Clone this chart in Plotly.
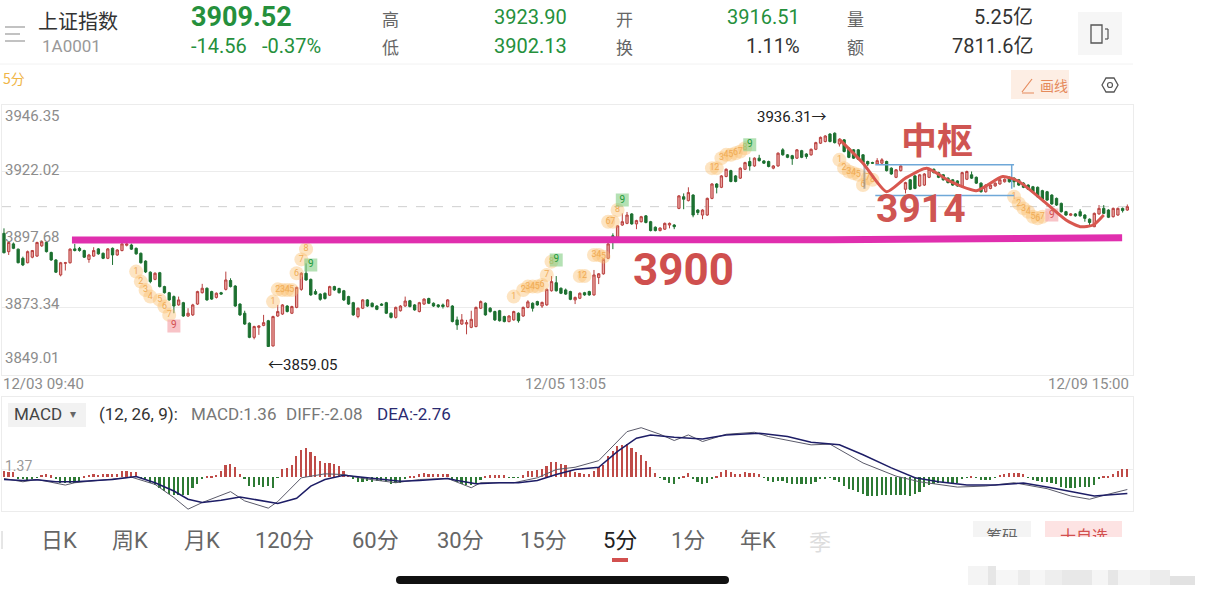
import plotly.graph_objects as go

W = 1208
H = 596

# 5 minute bars, 12/03 09:40 to 12/09 15:00
opens = [
    3899.9, 3893.3, 3896.1, 3894.2, 3890.9, 3889.3, 3891.3, 3891.7, 3895.4, 3896.6,
    3893.0, 3890.3, 3884.9, 3889.1, 3889.3, 3894.3, 3894.5, 3893.7, 3890.5, 3891.7,
    3894.3, 3892.7, 3890.9, 3894.5, 3892.1, 3893.7, 3895.6, 3895.7, 3894.5, 3892.7,
    3889.9, 3885.9, 3883.3, 3885.7, 3880.7, 3878.5, 3877.1, 3874.1, 3874.9, 3870.1,
    3870.5, 3874.4, 3878.5, 3880.1, 3878.9, 3876.8, 3878.5, 3879.7, 3882.9, 3880.9,
    3874.4, 3871.1, 3867.5, 3862.4, 3866.0, 3866.7, 3868.4, 3859.3, 3870.1, 3870.8,
    3873.7, 3871.1, 3873.2, 3879.7, 3885.5, 3883.3, 3878.9, 3878.0, 3878.3, 3877.6,
    3880.7, 3880.0, 3879.2, 3877.1, 3874.9, 3869.9, 3872.9, 3875.9, 3874.7, 3873.7,
    3874.4, 3874.9, 3871.1, 3869.6, 3872.0, 3873.7, 3875.6, 3874.1, 3871.7, 3874.4,
    3876.4, 3874.7, 3874.1, 3874.1, 3873.5, 3873.7, 3868.7, 3867.2, 3867.2, 3866.0,
    3866.3, 3872.9, 3874.7, 3872.9, 3871.7, 3872.0, 3869.9, 3868.1, 3868.7, 3871.1,
    3870.1, 3873.2, 3874.7, 3875.3, 3873.7, 3874.1, 3879.2, 3882.1, 3880.1, 3879.5,
    3878.9, 3875.9, 3876.5, 3878.5, 3878.9, 3877.7, 3884.0, 3885.3, 3890.9, 3899.0,
    3898.5, 3902.9, 3903.5, 3906.9, 3903.3, 3904.1, 3906.2, 3904.1, 3902.1, 3900.9,
    3901.4, 3902.9, 3902.9, 3908.9, 3913.1, 3911.7, 3913.7, 3908.3, 3906.5, 3906.5,
    3912.5, 3917.7, 3916.5, 3920.4, 3922.5, 3920.6, 3919.8, 3923.0, 3925.8, 3924.2,
    3927.0, 3926.0, 3925.8, 3923.4, 3924.2, 3930.0, 3928.2, 3927.9, 3927.0, 3929.7,
    3928.5, 3928.2, 3930.2, 3932.4, 3933.0, 3935.7, 3936.0, 3932.1, 3933.6, 3930.6,
    3930.0, 3930.0, 3928.2, 3925.8, 3925.4, 3924.9, 3925.2, 3925.8, 3923.4, 3920.1,
    3922.5, 3915.8, 3919.2, 3920.6, 3917.0, 3917.3, 3920.1, 3923.0, 3921.8, 3921.0,
    3919.8, 3919.2, 3918.8, 3916.7, 3919.4, 3921.0, 3920.1, 3918.0, 3914.9, 3916.1,
    3917.0, 3917.7, 3918.5, 3920.1, 3919.8, 3919.2, 3918.0, 3917.3, 3916.7, 3916.5,
    3915.3, 3914.9, 3913.7, 3912.5, 3910.7, 3907.7, 3906.4, 3906.9, 3907.7, 3906.5,
    3905.0, 3902.3, 3906.9, 3908.9, 3908.3, 3905.9, 3906.5, 3908.9, 3908.3,
]
closes = [
    3892.9, 3896.6, 3894.5, 3889.3, 3888.5, 3893.3, 3893.7, 3896.6, 3896.9, 3893.3,
    3890.3, 3885.9, 3889.3, 3889.3, 3894.2, 3893.7, 3893.7, 3891.3, 3892.1, 3893.7,
    3892.5, 3890.9, 3894.3, 3892.1, 3893.9, 3896.1, 3896.1, 3894.2, 3892.5, 3889.3,
    3886.0, 3882.5, 3885.5, 3880.7, 3878.5, 3875.9, 3873.7, 3875.9, 3870.1, 3871.1,
    3874.1, 3878.9, 3880.1, 3875.9, 3876.2, 3878.3, 3878.0, 3883.1, 3880.7, 3873.7,
    3870.5, 3867.2, 3862.4, 3866.3, 3866.5, 3867.7, 3859.1, 3869.9, 3871.7, 3874.1,
    3871.7, 3873.5, 3880.4, 3885.5, 3883.1, 3877.7, 3878.0, 3876.1, 3876.4, 3880.7,
    3879.5, 3878.5, 3875.9, 3874.4, 3870.5, 3872.9, 3875.9, 3873.7, 3873.5, 3872.5,
    3874.0, 3871.1, 3869.6, 3873.2, 3873.7, 3875.5, 3873.5, 3872.3, 3874.9, 3876.2,
    3874.7, 3873.7, 3873.5, 3873.5, 3875.9, 3868.1, 3866.9, 3868.7, 3867.7, 3868.9,
    3873.2, 3875.3, 3870.5, 3871.7, 3868.7, 3868.4, 3868.1, 3870.1, 3871.7, 3868.4,
    3873.2, 3875.2, 3872.9, 3874.1, 3875.0, 3879.7, 3882.5, 3879.2, 3878.3, 3878.0,
    3876.1, 3876.8, 3878.3, 3877.7, 3877.7, 3884.9, 3885.3, 3890.5, 3896.1, 3897.5,
    3902.6, 3904.1, 3906.5, 3903.3, 3904.5, 3905.9, 3903.8, 3900.9, 3900.9, 3901.8,
    3903.5, 3903.5, 3902.3, 3913.4, 3912.2, 3914.6, 3906.5, 3907.4, 3908.3, 3912.5,
    3917.7, 3916.5, 3920.6, 3923.0, 3918.6, 3918.6, 3923.4, 3925.4, 3924.2, 3927.0,
    3926.1, 3925.2, 3924.0, 3924.2, 3928.8, 3928.2, 3927.3, 3926.8, 3930.0, 3927.3,
    3927.6, 3930.2, 3932.6, 3934.5, 3935.0, 3933.0, 3932.6, 3933.8, 3929.4, 3927.3,
    3927.0, 3926.6, 3925.4, 3924.9, 3925.2, 3926.1, 3926.4, 3922.5, 3921.3, 3922.8,
    3924.2, 3918.2, 3915.8, 3916.1, 3921.0, 3921.3, 3923.0, 3921.8, 3920.1, 3919.2,
    3918.2, 3917.3, 3917.0, 3921.8, 3922.2, 3919.8, 3918.0, 3914.9, 3917.3, 3917.3,
    3918.0, 3919.2, 3919.4, 3918.5, 3918.5, 3917.3, 3916.5, 3915.8, 3914.9, 3913.1,
    3912.2, 3911.9, 3910.5, 3910.1, 3907.7, 3906.5, 3906.9, 3906.2, 3906.2, 3905.3,
    3903.8, 3907.1, 3908.9, 3907.1, 3905.7, 3908.9, 3908.9, 3908.1, 3909.5,
]
highs = [
    3901.7, 3897.0, 3896.6, 3894.4, 3891.5, 3893.7, 3893.9, 3896.9, 3897.4, 3897.0,
    3893.3, 3890.6, 3889.6, 3889.6, 3894.5, 3896.1, 3895.0, 3894.0, 3892.5, 3894.9,
    3894.6, 3893.0, 3894.6, 3894.8, 3894.2, 3896.5, 3896.5, 3896.2, 3894.8, 3893.0,
    3890.2, 3886.2, 3885.9, 3886.0, 3881.0, 3878.8, 3877.5, 3877.1, 3875.2, 3872.9,
    3874.5, 3879.2, 3881.7, 3880.4, 3879.2, 3878.6, 3878.8, 3886.1, 3883.7, 3881.2,
    3874.7, 3872.0, 3867.8, 3866.6, 3866.8, 3870.5, 3868.7, 3870.2, 3874.1, 3874.4,
    3874.0, 3873.8, 3880.7, 3885.9, 3889.1, 3883.6, 3879.7, 3878.3, 3878.6, 3881.0,
    3881.0, 3880.3, 3879.5, 3877.4, 3875.2, 3873.2, 3876.2, 3876.2, 3875.0, 3874.0,
    3874.7, 3875.2, 3871.4, 3873.5, 3874.0, 3877.1, 3875.9, 3874.4, 3875.2, 3876.5,
    3876.7, 3875.0, 3874.4, 3874.6, 3876.2, 3874.0, 3869.9, 3870.8, 3868.7, 3872.0,
    3873.5, 3875.7, 3875.0, 3873.3, 3872.0, 3872.3, 3870.2, 3870.4, 3872.0, 3871.4,
    3873.5, 3875.8, 3875.0, 3875.6, 3875.3, 3880.0, 3884.5, 3884.5, 3880.4, 3880.0,
    3879.2, 3877.1, 3878.6, 3878.8, 3879.2, 3886.7, 3885.6, 3890.8, 3897.5, 3899.9,
    3902.9, 3907.1, 3907.6, 3907.2, 3904.8, 3906.2, 3906.5, 3904.4, 3902.4, 3902.1,
    3903.8, 3903.8, 3903.2, 3913.7, 3914.3, 3916.5, 3914.0, 3908.6, 3908.6, 3912.8,
    3918.0, 3918.0, 3920.9, 3923.3, 3922.8, 3920.9, 3923.7, 3925.7, 3927.3, 3927.3,
    3928.2, 3926.3, 3926.1, 3924.5, 3929.1, 3930.6, 3928.5, 3928.2, 3930.3, 3930.0,
    3928.8, 3930.5, 3932.9, 3934.8, 3935.3, 3936.0, 3936.31, 3934.2, 3933.9, 3930.9,
    3930.3, 3930.3, 3928.5, 3926.1, 3925.7, 3927.0, 3927.0, 3926.1, 3923.7, 3923.1,
    3924.5, 3918.5, 3919.5, 3920.9, 3921.3, 3921.6, 3923.3, 3923.3, 3922.1, 3921.3,
    3920.1, 3919.5, 3919.1, 3922.1, 3922.5, 3922.2, 3920.4, 3918.3, 3917.6, 3917.6,
    3918.3, 3919.5, 3919.7, 3920.4, 3920.1, 3919.5, 3918.3, 3917.6, 3917.0, 3916.8,
    3915.6, 3915.2, 3914.0, 3912.8, 3911.0, 3908.0, 3907.2, 3907.2, 3908.6, 3906.8,
    3905.3, 3907.4, 3910.1, 3910.1, 3908.6, 3909.2, 3909.2, 3909.2, 3910.3,
]
lows = [
    3892.7, 3892.1, 3894.2, 3889.1, 3888.1, 3889.1, 3890.9, 3891.4, 3895.0, 3893.0,
    3890.0, 3885.6, 3884.4, 3886.5, 3889.0, 3893.4, 3893.3, 3891.0, 3889.3, 3891.4,
    3892.2, 3890.6, 3890.6, 3888.5, 3891.8, 3893.4, 3895.2, 3893.9, 3892.2, 3889.0,
    3885.6, 3881.9, 3883.0, 3880.4, 3878.2, 3875.6, 3871.1, 3873.8, 3869.8, 3869.8,
    3870.1, 3874.1, 3878.2, 3875.6, 3875.9, 3876.4, 3877.7, 3879.3, 3880.4, 3873.4,
    3870.1, 3866.9, 3862.1, 3861.7, 3863.3, 3866.4, 3859.05, 3859.1, 3869.8, 3870.5,
    3871.4, 3870.8, 3872.9, 3879.2, 3882.8, 3877.4, 3877.7, 3875.6, 3876.0, 3877.3,
    3879.2, 3878.2, 3875.5, 3874.1, 3870.2, 3869.3, 3872.6, 3873.4, 3873.2, 3872.2,
    3873.7, 3870.8, 3869.2, 3869.2, 3871.7, 3873.4, 3873.2, 3872.0, 3871.4, 3874.1,
    3874.4, 3873.4, 3873.0, 3872.8, 3873.2, 3867.8, 3865.1, 3866.9, 3863.5, 3865.7,
    3866.0, 3872.6, 3870.2, 3871.3, 3868.3, 3868.1, 3867.8, 3867.8, 3868.4, 3867.7,
    3869.8, 3872.9, 3871.7, 3873.8, 3873.0, 3873.8, 3878.9, 3878.9, 3878.0, 3877.7,
    3875.8, 3874.4, 3876.2, 3877.4, 3877.4, 3877.4, 3881.6, 3885.0, 3890.6, 3894.2,
    3898.2, 3902.6, 3903.2, 3903.0, 3901.4, 3903.8, 3903.5, 3900.6, 3900.6, 3900.6,
    3901.1, 3901.7, 3901.4, 3908.6, 3908.6, 3911.4, 3905.7, 3906.5, 3905.0, 3906.2,
    3912.2, 3914.3, 3916.2, 3920.1, 3918.3, 3918.3, 3919.5, 3922.7, 3922.5, 3923.9,
    3925.8, 3924.9, 3923.7, 3923.0, 3923.9, 3927.9, 3927.0, 3924.6, 3926.7, 3927.0,
    3926.8, 3927.9, 3929.9, 3932.1, 3932.7, 3932.7, 3932.3, 3931.2, 3929.1, 3927.0,
    3926.7, 3926.3, 3925.1, 3924.2, 3924.9, 3924.6, 3924.9, 3922.2, 3921.0, 3919.8,
    3922.2, 3914.3, 3915.5, 3915.8, 3916.7, 3917.0, 3919.8, 3921.5, 3919.8, 3918.9,
    3917.9, 3917.0, 3916.7, 3916.4, 3919.1, 3919.5, 3917.7, 3914.6, 3914.6, 3915.8,
    3916.7, 3917.4, 3918.2, 3918.2, 3916.5, 3917.0, 3916.2, 3915.5, 3914.6, 3912.8,
    3911.9, 3911.6, 3910.2, 3909.8, 3907.4, 3906.2, 3906.1, 3905.9, 3905.9, 3904.1,
    3902.6, 3902.13, 3906.6, 3906.8, 3905.4, 3905.6, 3906.2, 3907.4, 3908.0,
]

macd_hist = [
    1.0, 0.95, 0.9, -0.3, -0.3, -0.4, -0.2, -0.1, 0.4, 0.5,
    0.3, -0.3, -0.9, -0.9, -1.0, -1.0, -0.8, 0.1, 0.4, 0.5,
    0.4, 0.6, 0.5, 0.6, 0.5, 1.0, 1.1, 0.9, 0.8, -0.1,
    -0.5, -0.9, -1.3, -1.8, -2.3, -2.8, -3.0, -3.0, -3.0, -3.0,
    -1.8, -1.2, -0.2, 0.1, 0.1, 0.4, 1.0, 2.0, 2.2, 1.7,
    0.6, -0.3, -1.5, -1.7, -1.3, -1.7, -1.5, -1.8, -0.1, 1.3,
    1.6, 2.1, 3.5, 4.6, 4.9, 4.2, 3.5, 2.7, 2.4, 2.4,
    2.2, 1.8, 1.1, 0.4, -0.3, -0.8, -0.8, -0.7, -0.8, -0.7,
    -0.7, -0.8, -1.1, -1.0, -0.9, -0.2, 0.1, 0.1, 0.5, 0.7,
    0.6, 0.6, 0.5, 0.5, 0.6, -0.4, -0.8, -1.1, -1.3, -1.3,
    -1.1, -0.4, 0.2, 0.3, 0.3, 0.3, 0.3, -0.1, -0.1, -0.1,
    0.3, 1.1, 1.1, 1.2, 1.4, 1.8, 2.6, 2.5, 2.2, 2.0,
    1.1, 0.9, 0.7, 0.6, 0.5, 1.1, 1.7,
    2.1, 3.5, 4.4, 5.2, 5.4, 5.6, 4.9, 4.2, 3.7, 2.8,
    1.7, 0.7, -0.1, -0.5, -0.9, -1.1, -0.2, 0.2, 0.7, -0.3,
    -0.8, -1.1, -0.9, -0.2, 0.1, 0.8, 1.2, 0.8, 0.6, 0.6,
    0.8, 0.7, 0.7, 0.5, -0.1, -0.7, -0.8, -0.7, -0.7, -1.0,
    -1.1, -1.2, -1.2, -1.2, -1.1, -0.8, -0.3, -0.2, -0.1, -0.5,
    -0.8, -1.5, -2.0, -2.2, -2.5, -2.8, -3.1, -3.1, -3.1, -3.0,
    -3.0, -3.0, -3.0, -3.0, -3.0, -3.2, -2.9, -2.5, -1.6, -1.3,
    -1.1, -1.0, -1.0, -1.0, -1.0, -1.0, -0.3, -0.1, 0.1, -0.1,
    -0.5, -0.5, -0.5, -0.1, 0.4, 0.6, 0.7, 0.7, 0.7, 0.5,
    -0.1, -0.5, -0.7, -0.8, -0.8, -1.0, -1.2, -1.6, -1.8, -1.8,
    -1.8, -1.6, -1.6, -1.6, -1.4, -0.3, 0.1, 0.2, 0.6, 1.0, 1.3, 1.36,
]

diff_bars = [0, 4, 7, 13, 15, 20, 27, 32, 36, 39, 42, 48, 51, 56, 58, 63, 68, 72, 76, 83, 88, 94, 99, 101,
             108, 113, 117, 121, 126, 132, 135, 139, 142, 145, 148, 153, 159, 162, 171, 175, 182, 189, 194,
             202, 208, 214, 221, 226, 230, 233, 238]
diff_vals = [-0.22, -0.78, -0.39, -1.33, -0.94, -0.56, 0.0, -1.22, -3.44, -5.39, -4.28, -2.44, -4.0, -5.22,
             -4.11, -0.11, 0.56, 0.44, -0.22, -0.94, -0.39, -0.22, -1.78, -0.94,
             -0.94, -0.11, 1.28, 1.67, 2.78, 7.67, 8.33, 7.22, 6.17, 7.11, 6.0, 7.22, 7.56, 6.83, 5.44, 5.56,
             2.39, 0.17, -0.78, -1.67, -1.5, -0.94, -1.94, -3.17, -3.72, -3.06, -2.08]
dea_bars = [0, 4, 7, 11, 15, 20, 23, 28, 32, 36, 39, 42, 46, 50, 54, 58, 62, 65, 68, 72, 76, 80, 84, 88, 94, 96,
            100, 105, 109, 113, 117, 121, 126, 130, 134, 137, 142, 148, 153, 160, 166, 171, 177, 182, 188,
            193, 198, 204, 210, 216, 221, 231, 238]
dea_vals = [-0.39, -0.56, -0.44, -0.78, -0.78, -0.56, -0.39, 0.11, -0.94, -2.33, -3.72, -4.28, -3.89, -3.33,
            -3.89, -4.44, -3.56, -1.5, -0.39, 0.33, 0.0, -0.39, -0.67, -0.56, -0.22, -0.56,
            -1.11, -0.94, -0.94, -0.56, 0.44, 1.28, 1.67, 4.33, 6.56, 7.11, 6.72, 6.44, 7.11, 7.39, 6.83, 5.89,
            5.44, 3.78, 1.56, -0.11, -0.78, -1.33, -1.33, -1.0, -1.67, -3.17, -2.76]

# hand drawn marks on the screenshot
pen_bars = [14.4, 130, 175, 236.9]
pen_prices = [3897.5, 3897.5, 3897.6, 3898.3]
wave_bars = [177, 182, 187, 191, 195.5, 200.5, 206, 211.6, 215, 220, 225, 228, 230.8, 233]
wave_prices = [3933.8, 3925.2, 3914.9, 3919.8, 3923.4, 3918.6, 3915.3, 3920.4, 3918.6, 3911.9, 3904.7,
               3902.3, 3902.9, 3906.5]
box_top = 3924.6
box_bottom = 3913.5
box_bars = [184.6, 214]
box_left_bar = 182.3
box_left_low = 3916.0

# TD count labels
td_bars = [28, 29, 30, 31, 33, 34, 35,
           57, 58, 59, 60, 61, 62, 63, 64,
           108, 110, 111, 112, 113, 114, 115, 116,
           122, 123, 125, 126, 127, 128, 129, 130,
           150, 151, 152, 153, 154, 155, 156, 157,
           177, 178, 179, 180, 181, 182, 183, 184,
           214, 215, 216, 217, 218, 219, 220]
td_prices = [3886.1, 3882.5, 3879.5, 3877.1, 3875.9, 3873.5, 3870.5,
             3875.3, 3879.7, 3879.5, 3879.5, 3879.5, 3885.5, 3890.5, 3894.2,
             3877.1, 3879.5, 3880.7, 3880.7, 3880.7, 3881.3, 3884.9, 3889.7,
             3884.5, 3884.5, 3892.1, 3892.1, 3891.5, 3904.1, 3904.1, 3908.3,
             3923.4, 3923.4, 3927.0, 3928.2, 3928.2, 3928.8, 3929.4, 3930.6,
             3926.4, 3923.4, 3922.2, 3921.6, 3921.0, 3917.3, 3919.8, 3919.2,
             3913.1, 3910.7, 3908.9, 3907.7, 3905.9, 3905.3, 3905.9]
td_digits = ["1", "2", "3", "4", "5", "6", "7",
             "1", "2", "3", "4", "5", "6", "7", "8",
             "1", "2", "3", "4", "5", "6", "7", "8",
             "1", "2", "3", "4", "5", "6", "7", "8",
             "1", "2", "3", "4", "5", "6", "7", "8",
             "1", "2", "3", "4", "5", "6", "7", "8",
             "1", "2", "3", "4", "5", "6", "7"]
green_nine_bars = [65, 117, 131, 158]
green_nine_prices = [3888.5, 3890.3, 3911.9, 3931.8]
pink_nine_bars = [36, 222]
pink_nine_prices = [3866.5, 3906.5]

price_ticks = [3946.35, 3922.02, 3897.68, 3873.34, 3849.01]
price_label_shift = [-11.5, 2, 3, 3, 17]
grid_ticks = [3922.02, 3873.34]
date_bars = [0, 119, 238]
date_labels = ["12/03 09:40", "12/05 13:05", "12/09 15:00"]
date_shift = [-3, 0, 4]
tab_labels = ["日K", "周K", "月K", "120分", "60分", "30分", "15分", "5分", "1分", "年K", "季"]
tab_centres = [59, 130, 202, 284, 375, 460, 543, 620, 688, 758, 820]

RED = "#d2504f"
GREEN = "#25903c"
GRAY = "#8c8c8c"
FONT = "Roboto, 'Noto Sans CJK SC', sans-serif"
CJK = "'Noto Sans CJK SC', sans-serif"

bars = list(range(len(opens)))

fig = go.Figure()

fig.add_trace(go.Candlestick(
    x=bars, open=opens, high=highs, low=lows, close=closes, whiskerwidth=0,
    increasing=dict(line=dict(color="#b8403f", width=1), fillcolor="#eba3a0"),
    decreasing=dict(line=dict(color="#1c7030", width=1), fillcolor="#1c7030"),
    xaxis="x", yaxis="y", hoverinfo="skip",
))

# TD labels
fig.add_trace(go.Scatter(
    x=td_bars, y=td_prices, mode="markers+text", text=td_digits, textposition="middle center",
    textfont=dict(size=9, color="#f0ab55", family=FONT),
    marker=dict(symbol="circle", size=14, color="rgba(250,190,110,0.42)"),
    xaxis="x", yaxis="y", hoverinfo="skip",
))
fig.add_trace(go.Scatter(
    x=green_nine_bars, y=green_nine_prices, mode="markers+text", text=["9"] * len(green_nine_bars),
    textposition="middle center", textfont=dict(size=10, color="#1f9a3a", family=FONT),
    marker=dict(symbol="square", size=13, color="rgba(130,205,130,0.6)"),
    xaxis="x", yaxis="y", hoverinfo="skip",
))
fig.add_trace(go.Scatter(
    x=pink_nine_bars, y=pink_nine_prices, mode="markers+text", text=["9"] * len(pink_nine_bars),
    textposition="middle center", textfont=dict(size=10, color="#d2504f", family=FONT),
    marker=dict(symbol="square", size=13, color="rgba(245,170,175,0.7)"),
    xaxis="x", yaxis="y", hoverinfo="skip",
))

# blue box
fig.add_trace(go.Scatter(
    x=[box_left_bar, box_left_bar], y=[box_top, box_left_low], mode="lines",
    line=dict(color="rgba(130,130,130,0.6)", width=2), xaxis="x", yaxis="y", hoverinfo="skip",
))
fig.add_trace(go.Scatter(
    x=box_bars, y=[box_top, box_top], mode="lines", line=dict(color="#6fa8d8", width=1.5),
    xaxis="x", yaxis="y", hoverinfo="skip",
))
fig.add_trace(go.Scatter(
    x=box_bars, y=[box_bottom, box_bottom], mode="lines", line=dict(color="#6fa8d8", width=1.5),
    xaxis="x", yaxis="y", hoverinfo="skip",
))
fig.add_trace(go.Scatter(
    x=[box_bars[1] - 0.5, box_bars[1] - 0.5], y=[box_top, box_bottom + 2.5], mode="lines",
    line=dict(color="#6fa8d8", width=1.5), xaxis="x", yaxis="y", hoverinfo="skip",
))

# pen strokes
fig.add_trace(go.Scatter(
    x=pen_bars, y=pen_prices, mode="lines", line=dict(color="#e02fae", width=7),
    xaxis="x", yaxis="y", hoverinfo="skip",
))
fig.add_trace(go.Scatter(
    x=wave_bars, y=wave_prices, mode="lines", line=dict(color="#d8574f", width=3, shape="spline", smoothing=0.6),
    xaxis="x", yaxis="y", hoverinfo="skip",
))

# MACD panel
fig.add_trace(go.Bar(
    x=bars, y=macd_hist, width=0.36,
    marker=dict(color=["#bf4b48" if v >= 0 else "#2d7a34" for v in macd_hist], line=dict(width=0)),
    xaxis="x2", yaxis="y2", hoverinfo="skip",
))
fig.add_trace(go.Scatter(
    x=diff_bars, y=diff_vals, mode="lines", line=dict(color="#5a5a6a", width=1),
    xaxis="x2", yaxis="y2", hoverinfo="skip",
))
fig.add_trace(go.Scatter(
    x=dea_bars, y=dea_vals, mode="lines", line=dict(color="#1d1d66", width=1.5),
    xaxis="x2", yaxis="y2", hoverinfo="skip",
))

# the two buttons are cut off in the screenshot, so their text goes on a small clipped axis
fig.add_trace(go.Scatter(
    x=[1002, 1084], y=[538, 538], mode="text", text=["筹码", "十自选"], textposition="middle center",
    textfont=dict(size=16, color=["#666666", "#d2504f"], family=CJK), cliponaxis=True,
    xaxis="x3", yaxis="y3", hoverinfo="skip",
))


def px(x):
    return x / W


def py(y):
    return 1 - y / H


annotations = []


def label(x, y, text, size, color, anchor="left", family=FONT):
    annotations.append(dict(
        x=px(x), y=py(y), xref="paper", yref="paper", text=text, showarrow=False,
        xanchor=anchor, yanchor="middle", font=dict(size=size, color=color, family=family),
        borderpad=0,
    ))


def rect(x0, y0, x1, y1, fill):
    return dict(type="rect", xref="paper", yref="paper", x0=px(x0), x1=px(x1), y0=py(y0), y1=py(y1),
                fillcolor=fill, line=dict(width=0), layer="below")


def seg(x0, y0, x1, y1, color, width=1.5):
    return dict(type="line", xref="paper", yref="paper", x0=px(x0), x1=px(x1), y0=py(y0), y1=py(y1),
                line=dict(color=color, width=width))


# header
label(37, 21, "上证指数", 20, "#333333", family=CJK)
label(41, 46, "1A0001", 17, "#999999")
label(190, 17, "<b>3909.52</b>", 27, GREEN)
label(190, 46, "-14.56", 20, GREEN)
label(261, 46, "-0.37%", 20, GREEN)
label(381, 18, "高", 17, "#666666", family=CJK)
label(381, 47, "低", 17, "#666666", family=CJK)
label(568, 17, "3923.90", 20, GREEN, "right")
label(568, 46, "3902.13", 20, GREEN, "right")
label(615, 18, "开", 17, "#666666", family=CJK)
label(615, 47, "换", 17, "#666666", family=CJK)
label(801, 17, "3916.51", 20, GREEN, "right")
label(801, 46, "1.11%", 20, "#333333", "right")
label(846, 18, "量", 17, "#666666", family=CJK)
label(846, 47, "额", 17, "#666666", family=CJK)
label(1034, 17, "5.25亿", 20, "#333333", "right")
label(1034, 46, "7811.6亿", 20, "#333333", "right")
label(2, 78, "5分", 14, "#f0b545", family=CJK)
label(1054, 85, "画线", 14, "#e58a5c", "center", family=CJK)

# price labels, offset from their own ticks as in the app
for tick, shift in zip(price_ticks, price_label_shift):
    annotations.append(dict(
        x=px(3), y=tick, xref="paper", yref="y", text=f"{tick:.2f}", showarrow=False, xanchor="left",
        yanchor="middle", yshift=shift, font=dict(size=15, color=GRAY, family=FONT),
    ))

# dates under the candles
for bar, text, anchor, shift in zip(date_bars, date_labels, ["left", "center", "right"], date_shift):
    annotations.append(dict(
        x=bar, y=py(384), xref="x", yref="paper", text=text, showarrow=False, xanchor=anchor, xshift=shift,
        yanchor="middle", font=dict(size=15, color=GRAY, family=FONT),
    ))

# price extremes, big pen text
label(756, 117, "3936.31→", 15, "#222222")
label(267, 365, "←3859.05", 15, "#222222")
label(683, 270, "<b>3900</b>", 44, "#cf4f4e", "center")
label(921, 209, "<b>3914</b>", 39, "#cf5552", "center")
label(937, 138, "<b>中枢</b>", 36, "#cf5552", "center", family=CJK)

# MACD header
label(13, 414, "MACD", 17, "#444444")
label(69, 414, "▾", 12, "#666666")
label(98, 414, "(12, 26, 9):", 17, "#333333")
label(190, 414, "MACD:1.36", 17, "#777777")
label(285, 414, "DIFF:-2.08", 17, "#777777")
label(376, 414, "DEA:-2.76", 17, "#2a2a70")
label(4, 466, "1.37", 14, "#999999")

# period tabs
for name, centre in zip(tab_labels, tab_centres):
    if name == "5分":
        label(centre, 540, name, 22, "#222222", "center", family=FONT)
    elif name == "季":
        label(centre, 540, name, 22, "#dddddd", "center", family=CJK)
    else:
        label(centre, 540, name, 22, "#666666", "center", family=FONT)

shapes = [
    # header and toolbar
    seg(0, 64, 1133, 64, "#f2f2f2", 1),
    seg(5, 27, 25, 27, "#999999", 1.2),
    seg(5, 34, 20, 34, "#999999", 1.2),
    seg(5, 41, 25, 41, "#999999", 1.2),
    rect(1078, 12, 1122, 55, "#f6f6f6"),
    rect(1011, 70, 1069, 99, "#fdeee4"),
    seg(1022, 92, 1032, 79, "#e58a5c", 1.2),
    seg(1022, 93, 1034, 93, "#e58a5c", 1),
    dict(type="rect", xref="paper", yref="paper", x0=px(1091), x1=px(1102), y0=py(25), y1=py(43),
         line=dict(color="#555555", width=1.3)),
    seg(1105, 29, 1108, 29, "#555555", 1.2),
    seg(1108, 29, 1108, 39, "#555555", 1.2),
    seg(1105, 39, 1108, 39, "#555555", 1.2),
    dict(type="path", xref="paper", yref="paper",
         path=f"M {px(1102)} {py(85)} L {px(1106)} {py(78)} L {px(1114)} {py(78)} L {px(1118)} {py(85)} "
              f"L {px(1114)} {py(92)} L {px(1106)} {py(92)} Z",
         line=dict(color="#555555", width=1.3)),
    dict(type="circle", xref="paper", yref="paper", x0=px(1107.5), x1=px(1112.5), y0=py(82.5), y1=py(87.5),
         line=dict(color="#555555", width=1.2)),
    # MACD selector
    rect(8, 403, 86, 427, "#f2f2f2"),
    # buttons cut off by the blur patch, home bar, active tab
    rect(973, 521, 1031, 537, "#f4f4f4"),
    rect(1045, 521, 1122, 537, "#fde3e3"),
    rect(968, 566, 988, 585, "#f4f4f4"),
    rect(988, 566, 996, 585, "#e6e6e6"),
    rect(996, 570, 1018, 585, "#f6f6f6"),
    rect(1018, 570, 1030, 585, "#ececec"),
    rect(1030, 570, 1045, 585, "#f6f6f6"),
    rect(1045, 570, 1062, 585, "#eeeeee"),
    rect(1062, 570, 1092, 585, "#e8e8e8"),
    rect(1092, 570, 1108, 585, "#f5f5f5"),
    rect(1108, 570, 1118, 585, "#e6e6e6"),
    rect(1118, 570, 1150, 585, "#f3f3f3"),
    rect(1150, 570, 1170, 585, "#ececec"),
    rect(1170, 576, 1195, 585, "#e2e2e2"),
    rect(612, 558, 628, 562, "#d2504f"),
    rect(400, 576, 725, 584, "#111111"),
    dict(type="circle", xref="paper", yref="paper", x0=px(396), x1=px(404), y0=py(576), y1=py(584),
         fillcolor="#111111", line=dict(width=0)),
    dict(type="circle", xref="paper", yref="paper", x0=px(721), x1=px(729), y0=py(576), y1=py(584),
         fillcolor="#111111", line=dict(width=0)),
    seg(2, 531, 2, 549, "#cccccc", 1),
    # last price line
    dict(type="line", xref="paper", yref="y", x0=px(2), x1=px(1133), y0=3909.52, y1=3909.52,
         line=dict(color="#cfcfcf", width=1, dash="dash"), layer="below"),
]

x_range = [-0.42, 239.2]
x_domain = [px(2), px(1133)]

fig.update_layout(
    width=W, height=H, margin=dict(l=0, r=0, t=0, b=0), showlegend=False,
    paper_bgcolor="white", plot_bgcolor="rgba(0,0,0,0)", bargap=0,
    annotations=annotations, shapes=shapes,
    xaxis=dict(domain=x_domain, range=x_range, showgrid=False, zeroline=False, showticklabels=False,
               showline=True, mirror=True, linecolor="#ececec", linewidth=1, rangeslider=dict(visible=False),
               anchor="y", ticks=""),
    yaxis=dict(domain=[py(374.5), py(104.5)], range=[3849.01, 3946.35], tickvals=grid_ticks,
               showticklabels=False, gridcolor="#ececec", gridwidth=1, zeroline=False, showline=True,
               mirror=True, linecolor="#ececec", linewidth=1, anchor="x", ticks=""),
    xaxis2=dict(domain=x_domain, range=x_range, showgrid=False, zeroline=False, showticklabels=False,
                showline=True, mirror=True, linecolor="#ececec", linewidth=1, anchor="y2", ticks=""),
    yaxis2=dict(domain=[py(511), py(397)], range=[-5.7, 13.5], tickvals=[1.37], showticklabels=False,
                gridcolor="#eeeeee", gridwidth=1, zeroline=False, showline=True, mirror=True,
                linecolor="#ececec", linewidth=1, anchor="x2", ticks=""),
    xaxis3=dict(domain=[px(973), px(1122)], range=[973, 1122], visible=False, anchor="y3"),
    yaxis3=dict(domain=[py(537), py(521)], range=[537, 521], visible=False, anchor="x3"),
)

fig.write_html("out.html", config=dict(displayModeBar=False),
               post_script="document.body.style.margin='0';document.body.style.overflow='hidden';")
